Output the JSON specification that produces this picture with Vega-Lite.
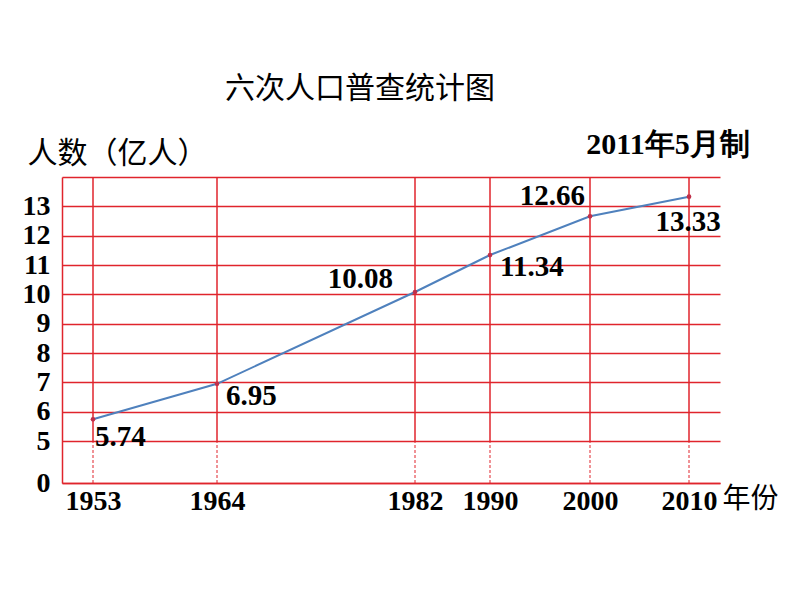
{
  "$schema": "https://vega.github.io/schema/vega-lite/v6.json",
  "width": 658,
  "height": 306,
  "autosize": {"type": "none"},
  "padding": {"left": 62, "top": 177, "right": 74, "bottom": 113},
  "background": "white",
  "config": {"view": {"stroke": null}},
  "title": {
    "text": "六次人口普查统计图",
    "anchor": "start",
    "frame": "group",
    "dx": 163,
    "offset": 26,
    "font": "Noto Sans CJK SC",
    "fontSize": 30,
    "fontWeight": "normal",
    "color": "black"
  },
  "data": {
    "values": [
      {"year": 1953, "pop": 5.74},
      {"year": 1964, "pop": 6.95},
      {"year": 1982, "pop": 10.08},
      {"year": 1990, "pop": 11.34},
      {"year": 2000, "pop": 12.66},
      {"year": 2010, "pop": 13.33}
    ]
  },
  "encoding": {
    "x": {
      "field": "year",
      "type": "quantitative",
      "scale": {
        "domain": [1950, 1953, 1964, 1982, 1990, 2000, 2010, 2013],
        "range": [0, 31, 155, 353, 428, 528, 627, 658],
        "zero": false,
        "nice": false
      },
      "axis": {
        "values": [1953, 1964, 1982, 1990, 2000, 2010],
        "format": "d",
        "labelFont": "Liberation Serif",
        "labelFontWeight": "bold",
        "labelFontSize": 28,
        "labelColor": "black",
        "labelPadding": 4,
        "ticks": false,
        "grid": false,
        "domainColor": "#e0242c",
        "domainWidth": 1.5,
        "title": "年份",
        "titleFont": "Noto Sans CJK SC",
        "titleFontSize": 28,
        "titleFontWeight": "normal",
        "titleColor": "black",
        "titleAnchor": "start",
        "titleAlign": "left",
        "titleBaseline": "middle",
        "titleX": 660,
        "titleY": 16
      }
    },
    "y": {
      "field": "pop",
      "type": "quantitative",
      "scale": {"domain": [3.57, 14], "zero": false, "nice": false},
      "axis": {
        "values": [3.57, 5, 6, 7, 8, 9, 10, 11, 12, 13, 14],
        "labelExpr": "datum.value < 4 ? '0' : (datum.value > 13.5 ? '' : datum.label)",
        "labelFont": "Liberation Serif",
        "labelFontWeight": "bold",
        "labelFontSize": 28,
        "labelColor": "black",
        "labelPadding": 12,
        "ticks": false,
        "grid": true,
        "gridColor": "#e0242c",
        "gridWidth": 1.5,
        "gridOpacity": 1,
        "domainColor": "#e0242c",
        "domainWidth": 1.5,
        "title": "人数（亿人）",
        "titleFont": "Noto Sans CJK SC",
        "titleFontSize": 30,
        "titleFontWeight": "normal",
        "titleColor": "black",
        "titleAngle": 0,
        "titleAlign": "left",
        "titleBaseline": "middle",
        "titleX": -35,
        "titleY": -24
      }
    }
  },
  "layer": [
    {
      "mark": {"type": "rule", "color": "#e0242c", "strokeWidth": 1.5},
      "encoding": {"y": {"datum": 5}, "y2": {"datum": 14}}
    },
    {
      "mark": {"type": "rule", "color": "#e0242c", "strokeWidth": 1, "strokeDash": [3, 2]},
      "encoding": {"y": {"datum": 3.57}, "y2": {"datum": 5}}
    },
    {
      "data": {"values": [{}]},
      "mark": {"type": "rule", "color": "#e0242c", "strokeWidth": 1.5},
      "encoding": {"x": {"datum": 2013}, "y": {"datum": 5}, "y2": {"datum": 14}}
    },
    {
      "data": {"values": [{}]},
      "mark": {"type": "rule", "color": "#e0242c", "strokeWidth": 1, "strokeDash": [3, 2]},
      "encoding": {"x": {"datum": 2013}, "y": {"datum": 3.57}, "y2": {"datum": 5}}
    },
    {
      "mark": {"type": "line", "color": "#4f81bd", "strokeWidth": 2}
    },
    {
      "mark": {"type": "point", "filled": true, "color": "#c0304a", "size": 22, "opacity": 1}
    },
    {
      "transform": [{"filter": "datum.year == 1953"}],
      "mark": {"type": "text", "align": "left", "baseline": "middle", "dx": 2, "dy": 18, "font": "Liberation Serif", "fontWeight": "bold", "fontSize": 29, "color": "black"},
      "encoding": {"text": {"field": "pop", "type": "quantitative", "format": ".2f"}}
    },
    {
      "transform": [{"filter": "datum.year == 1964"}],
      "mark": {"type": "text", "align": "left", "baseline": "middle", "dx": 9, "dy": 12, "font": "Liberation Serif", "fontWeight": "bold", "fontSize": 29, "color": "black"},
      "encoding": {"text": {"field": "pop", "type": "quantitative", "format": ".2f"}}
    },
    {
      "transform": [{"filter": "datum.year == 1982"}],
      "mark": {"type": "text", "align": "right", "baseline": "middle", "dx": -22, "dy": -13, "font": "Liberation Serif", "fontWeight": "bold", "fontSize": 29, "color": "black"},
      "encoding": {"text": {"field": "pop", "type": "quantitative", "format": ".2f"}}
    },
    {
      "transform": [{"filter": "datum.year == 1990"}],
      "mark": {"type": "text", "align": "left", "baseline": "middle", "dx": 10, "dy": 12, "font": "Liberation Serif", "fontWeight": "bold", "fontSize": 29, "color": "black"},
      "encoding": {"text": {"field": "pop", "type": "quantitative", "format": ".2f"}}
    },
    {
      "transform": [{"filter": "datum.year == 2000"}],
      "mark": {"type": "text", "align": "right", "baseline": "middle", "dx": -5, "dy": -20, "font": "Liberation Serif", "fontWeight": "bold", "fontSize": 29, "color": "black"},
      "encoding": {"text": {"field": "pop", "type": "quantitative", "format": ".2f"}}
    },
    {
      "transform": [{"filter": "datum.year == 2010"}],
      "mark": {"type": "text", "align": "center", "baseline": "middle", "dx": -1, "dy": 25, "font": "Liberation Serif", "fontWeight": "bold", "fontSize": 29, "color": "black"},
      "encoding": {"text": {"field": "pop", "type": "quantitative", "format": ".2f"}}
    },
    {
      "transform": [{"filter": "datum.year == 2010"}],
      "mark": {"type": "text", "text": "2011年5月制", "align": "center", "baseline": "middle", "clip": false, "dx": -21, "dy": -52, "font": "Liberation Serif", "fontWeight": "bold", "fontSize": 30, "color": "black"}
    }
  ]
}
